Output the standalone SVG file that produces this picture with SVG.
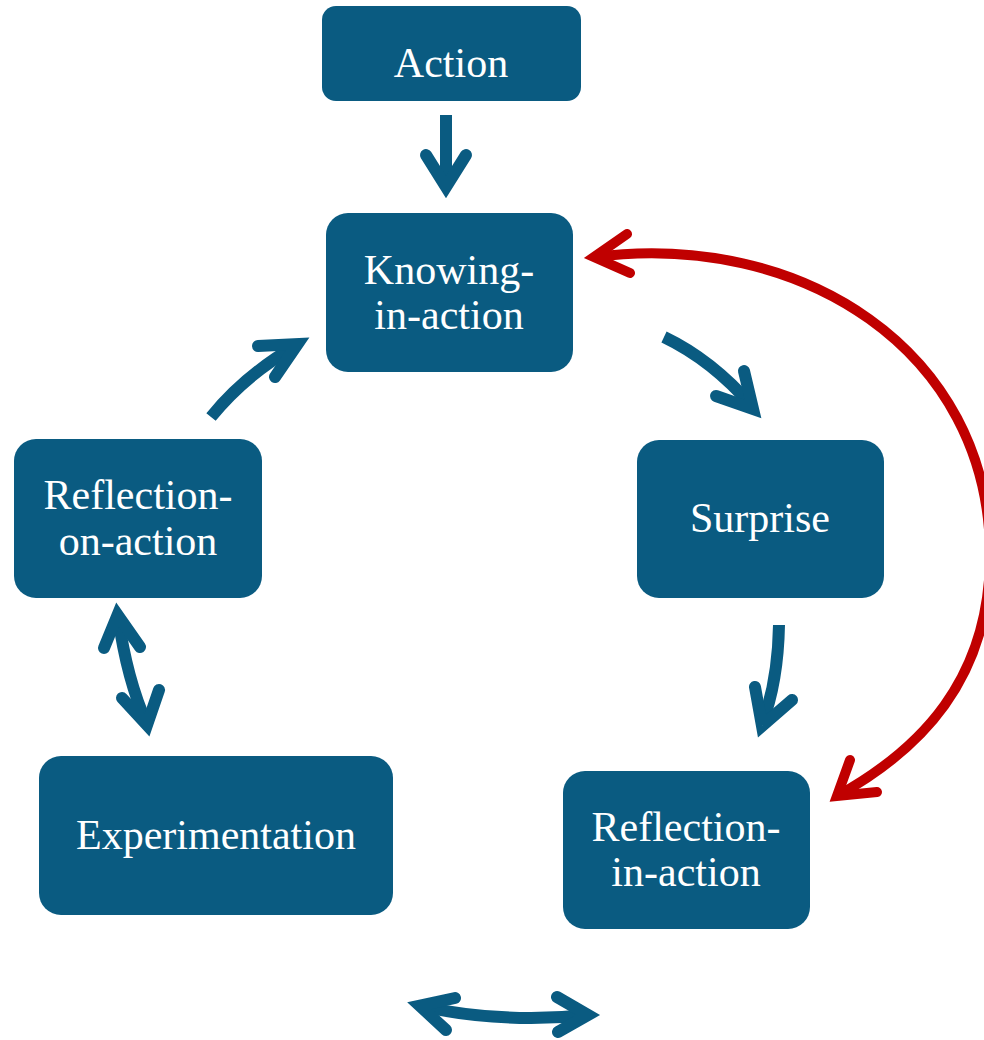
<svg xmlns="http://www.w3.org/2000/svg" width="984" height="1040" viewBox="0 0 984 1040">
  <style>
    .node { fill: #0A5B81; }
    .label { fill: #ffffff; font-family: "Liberation Serif", "Times New Roman", serif; font-size: 42px; text-anchor: middle; }
    .shaft { fill: none; stroke: #0A5B81; stroke-width: 12; stroke-linecap: butt; }
    .head { fill: none; stroke: #0A5B81; stroke-width: 12; stroke-linecap: round; stroke-linejoin: miter; stroke-miterlimit: 10; }
    .rshaft { fill: none; stroke: #C00000; stroke-width: 10; stroke-linecap: butt; }
    .rhead { fill: none; stroke: #C00000; stroke-width: 10; stroke-linecap: round; stroke-linejoin: miter; stroke-miterlimit: 10; }
  </style>
  <rect width="984" height="1040" fill="#ffffff"/>

  <g id="node-action">
    <rect class="node" x="322" y="6" width="259" height="95" rx="14"/>
    <text class="label" x="451" y="77">Action</text>
  </g>
  <g id="node-knowing">
    <rect class="node" x="326" y="213" width="247" height="159" rx="22"/>
    <text class="label" x="449" y="284">Knowing-</text>
    <text class="label" x="449" y="329">in-action</text>
  </g>
  <g id="node-surprise">
    <rect class="node" x="637" y="440" width="247" height="158" rx="22"/>
    <text class="label" x="760" y="532">Surprise</text>
  </g>
  <g id="node-reflection-on">
    <rect class="node" x="14" y="439" width="248" height="159" rx="22"/>
    <text class="label" x="138" y="509">Reflection-</text>
    <text class="label" x="138" y="555">on-action</text>
  </g>
  <g id="node-experimentation">
    <rect class="node" x="39" y="756" width="354" height="159" rx="22"/>
    <text class="label" x="216" y="849">Experimentation</text>
  </g>
  <g id="node-reflection-in">
    <rect class="node" x="563" y="771" width="247" height="158" rx="22"/>
    <text class="label" x="686" y="841">Reflection-</text>
    <text class="label" x="686" y="886">in-action</text>
  </g>

  <g id="connectors">
    <!-- Action to Knowing-in-action -->
    <path class="shaft" d="M446,115 L446,186"/>
    <path class="head" d="M426,155 L446,187 L466,155"/>

    <!-- Reflection-on-action to Knowing-in-action -->
    <path class="shaft" d="M211,417 Q245,375 297,345"/>
    <path class="head" d="M258,346 L297.6,344 L275,377"/>

    <!-- Knowing-in-action to Surprise -->
    <path class="shaft" d="M664,337 Q712,360 752,406"/>
    <path class="head" d="M744,371 L753,409 L716,396"/>

    <!-- Surprise to Reflection-in-action -->
    <path class="shaft" d="M779,625 Q778,682 762,724"/>
    <path class="head" d="M755,687 L762,726 L792,700"/>

    <!-- Reflection-on-action and Experimentation -->
    <path class="shaft" d="M118,616 Q127,680 147,724"/>
    <path class="head" d="M104,648 L117.6,615 L140,647"/>
    <path class="head" d="M122,698 L147,725 L159,690"/>

    <!-- Experimentation and Reflection-in-action -->
    <path class="shaft" d="M420,1006 Q502,1024 588,1015"/>
    <path class="head" d="M455,998 L419.7,1005.7 L446,1030"/>
    <path class="head" d="M557,997 L588,1015 L558,1032"/>

    <!-- Reflection-in-action back to Knowing-in-action -->
    <path class="rshaft" d="M594,257 C800,230 990,350 990,555 C990,680 920,750 837,796"/>
    <path class="rhead" d="M627,234 L594,257 L630,273"/>
    <path class="rhead" d="M850,760 L837,796 L877,792"/>
  </g>
</svg>
